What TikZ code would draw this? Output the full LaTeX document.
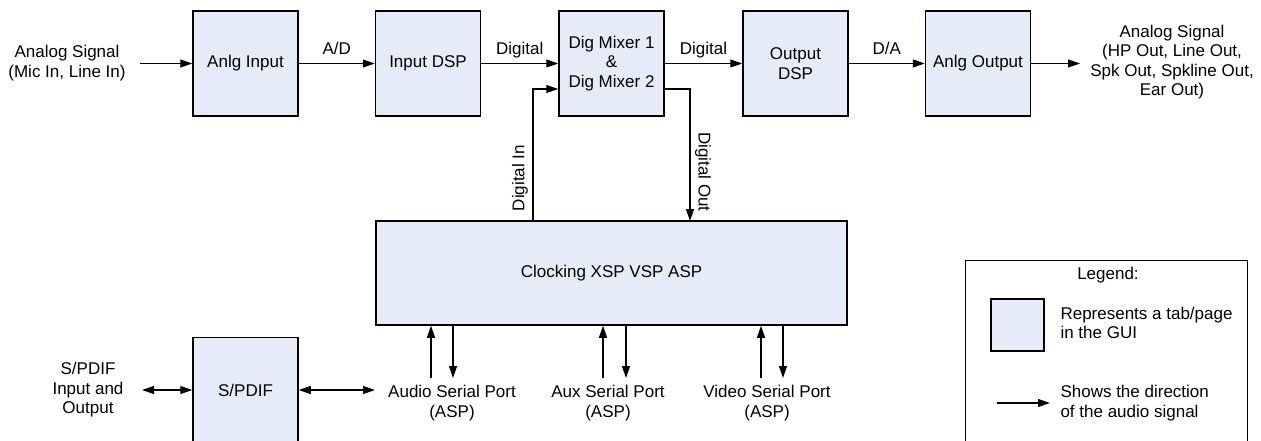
\documentclass[tikz,border=0pt]{standalone}
\usepackage{fontspec}
\setmainfont{Liberation Sans}
\usetikzlibrary{arrows.meta}
\definecolor{tabfill}{RGB}{230,236,247}

\begin{document}
\begin{tikzpicture}[x=1pt,y=-1pt,font=\fontsize{17}{19.5}\selectfont,
    tip/.tip={Triangle[length=12pt,width=8pt]},
    sig/.style={draw,line width=1.2pt,-tip},
    dsig/.style={draw,line width=1.2pt,tip-tip},
    lbl/.style={above=5pt,text height=12pt,text depth=3pt,inner sep=0pt}]
  \useasboundingbox (0,0) rectangle (1261,441);

  % tabs of the GUI
  \begin{scope}[every node/.style={draw,line width=1.5pt,fill=tabfill,align=center,
      minimum width=105pt,minimum height=105pt,inner sep=2pt}]
    \node (ain)   at (245.5,63.5) {Anlg Input};
    \node (idsp)  at (428,63.5)   {Input DSP};
    \node (mix)   at (611.5,63.5) {Dig Mixer 1\\\&\\Dig Mixer 2};
    \node (odsp)  at (795.5,63.5) {Output\\DSP};
    \node (aout)  at (978,63.5)   {Anlg Output};
    \node[minimum width=471pt,minimum height=104pt] (clk) at (611.5,273) {Clocking XSP VSP ASP};
    \node (spdif) at (245.5,390)  {S/PDIF};
  \end{scope}

  % outside signals
  \begin{scope}[every node/.style={align=center}]
    \node (anin)   at (67,63)   {Analog Signal\\(Mic In, Line In)};
    \node (anout)  at (1172,62) {Analog Signal\\(HP Out, Line Out,\\Spk Out, Spkline Out,\\Ear Out)};
    \node (spio)   at (88,390)  {S/PDIF\\Input and\\Output};
    \node (asp)    at (452,403) {Audio Serial Port\\(ASP)};
    \node (xsp)    at (608,403) {Aux Serial Port\\(ASP)};
    \node (vsp)    at (767,403) {Video Serial Port\\(ASP)};
  \end{scope}

  \coordinate (inend)  at (140,63.5);
  \coordinate (outend) at (1080,63.5);
  \coordinate (spl)    at (142,390);
  \coordinate (spr)    at (375,390);
  \coordinate (dinb)   at (533,221);
  \coordinate (doutb)  at (690,221);
  \coordinate (aspu)   at (431,378);
  \coordinate (aspd)   at (453,378);
  \coordinate (xspu)   at (603,378);
  \coordinate (xspd)   at (626,378);
  \coordinate (vspu)   at (761,378);
  \coordinate (vspd)   at (783,378);

  \begin{scope}[every edge/.style={sig}]
    \path (inend) edge (ain);
    \path (ain)   edge node[lbl] {A/D} (idsp);
    \path (idsp)  edge node[lbl] {Digital} (mix);
    \path (mix)   edge node[lbl] {Digital} (odsp);
    \path (odsp)  edge node[lbl] {D/A} (aout);
    \path (aout)  edge (outend);
    \path (aspu)  edge (aspu |- clk.south);
    \path (aspd |- clk.south) edge (aspd);
    \path (xspu)  edge (xspu |- clk.south);
    \path (xspd |- clk.south) edge (xspd);
    \path (vspu)  edge (vspu |- clk.south);
    \path (vspd |- clk.south) edge (vspd);
  \end{scope}

  \path[sig] (dinb) |- (mix.west |- 0,89);
  \path[sig] (mix.east |- 0,89) -| (doutb);
  \node[rotate=90]  (dinl)  at (520,178) {Digital In};
  \node[rotate=-90] (doutl) at (703,172) {Digital Out};

  \path[dsig] (spl) -- (spdif);
  \path[dsig] (spdif) -- (spr);

  % legend
  \node[draw,line width=1pt,minimum width=282pt,minimum height=190pt] (legend) at (1106,355) {};
  \node (legt) at (1108,275) {Legend:};
  \node[draw,line width=1.5pt,fill=tabfill,minimum width=53pt,minimum height=52pt] (legtab) at (1017.5,325) {};
  \node[anchor=west,align=left] (legtabt) at (1057,323) {Represents a tab/page\\in the GUI};
  \coordinate (legal) at (997,403);
  \coordinate (legar) at (1050,403);
  \path[sig] (legal) -- (legar);
  \node[anchor=west,align=left] (legart) at (1057,403) {Shows the direction\\of the audio signal};

\end{tikzpicture}
\end{document}
